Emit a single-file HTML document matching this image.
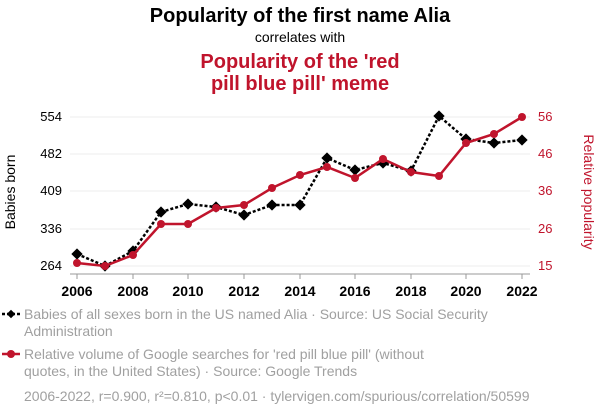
<!DOCTYPE html>
<html><head><meta charset="utf-8"><style>
body{margin:0;background:#fff;width:600px;height:414px;overflow:hidden;font-family:"Liberation Sans",sans-serif}
</style></head><body>
<svg width="600" height="414" xmlns="http://www.w3.org/2000/svg" font-family="Liberation Sans, sans-serif">
<text x="300" y="22" text-anchor="middle" font-size="20" font-weight="bold" fill="#000">Popularity of the first name Alia</text>
<text x="300" y="42" text-anchor="middle" font-size="14" fill="#000">correlates with</text>
<text x="300" y="68" text-anchor="middle" font-size="20" font-weight="bold" fill="#c0142c">Popularity of the 'red</text>
<text x="300" y="90" text-anchor="middle" font-size="20" font-weight="bold" fill="#c0142c">pill blue pill' meme</text>
<g stroke="#eee" stroke-width="1">
<line x1="70" x2="530" y1="117" y2="117"/><line x1="70" x2="530" y1="154" y2="154"/><line x1="70" x2="530" y1="191" y2="191"/><line x1="70" x2="530" y1="229" y2="229"/><line x1="70" x2="530" y1="266" y2="266"/>
</g>
<line x1="70" x2="530" y1="274" y2="274" stroke="#999" stroke-width="1"/>
<g stroke="#999" stroke-width="1">
<line x1="77" x2="77" y1="274" y2="279"/><line x1="133" x2="133" y1="274" y2="279"/><line x1="188" x2="188" y1="274" y2="279"/><line x1="244" x2="244" y1="274" y2="279"/><line x1="300" x2="300" y1="274" y2="279"/><line x1="355" x2="355" y1="274" y2="279"/><line x1="411" x2="411" y1="274" y2="279"/><line x1="466" x2="466" y1="274" y2="279"/><line x1="522" x2="522" y1="274" y2="279"/>
</g>
<g font-size="13" fill="#000" text-anchor="end">
<text x="62" y="121">554</text><text x="62" y="158">482</text><text x="62" y="195">409</text><text x="62" y="233">336</text><text x="62" y="270">264</text>
</g>
<g font-size="13" fill="#c0142c" text-anchor="start">
<text x="538" y="121">56</text><text x="538" y="158">46</text><text x="538" y="195">36</text><text x="538" y="233">26</text><text x="538" y="270">15</text>
</g>
<text transform="translate(15,192) rotate(-90)" text-anchor="middle" font-size="14" fill="#000">Babies born</text>
<text transform="translate(584,192) rotate(90)" text-anchor="middle" font-size="14" fill="#c0142c">Relative popularity</text>
<g font-size="14" font-weight="bold" fill="#000" text-anchor="middle">
<text x="77" y="296">2006</text><text x="133" y="296">2008</text><text x="188" y="296">2010</text><text x="244" y="296">2012</text><text x="300" y="296">2014</text><text x="355" y="296">2016</text><text x="411" y="296">2018</text><text x="466" y="296">2020</text><text x="522" y="296">2022</text>
</g>
<polyline fill="none" stroke="#000" stroke-width="2.5" stroke-dasharray="3,2" points="77,254 105,266 133,251 161,212 188,204 216,207 244,215 272,205 300,205 327,158 355,170 383,163 411,171 439,116 466,139 494,143 522,140"/>
<g fill="#000">
<rect x="73" y="250" width="8" height="8" transform="rotate(45 77 254)"/><rect x="101" y="262" width="8" height="8" transform="rotate(45 105 266)"/><rect x="129" y="247" width="8" height="8" transform="rotate(45 133 251)"/><rect x="157" y="208" width="8" height="8" transform="rotate(45 161 212)"/><rect x="184" y="200" width="8" height="8" transform="rotate(45 188 204)"/><rect x="212" y="203" width="8" height="8" transform="rotate(45 216 207)"/><rect x="240" y="211" width="8" height="8" transform="rotate(45 244 215)"/><rect x="268" y="201" width="8" height="8" transform="rotate(45 272 205)"/><rect x="296" y="201" width="8" height="8" transform="rotate(45 300 205)"/><rect x="323" y="154" width="8" height="8" transform="rotate(45 327 158)"/><rect x="351" y="166" width="8" height="8" transform="rotate(45 355 170)"/><rect x="379" y="159" width="8" height="8" transform="rotate(45 383 163)"/><rect x="407" y="167" width="8" height="8" transform="rotate(45 411 171)"/><rect x="435" y="112" width="8" height="8" transform="rotate(45 439 116)"/><rect x="462" y="135" width="8" height="8" transform="rotate(45 466 139)"/><rect x="490" y="139" width="8" height="8" transform="rotate(45 494 143)"/><rect x="518" y="136" width="8" height="8" transform="rotate(45 522 140)"/>
</g>
<polyline fill="none" stroke="#c0142c" stroke-width="2.5" points="77,263 105,266 133,255 161,224 188,224 216,208 244,205 272,188 300,175 327,167 355,178 383,159 411,172 439,176 466,143 494,134 522,117"/>
<g fill="#c0142c">
<circle cx="77" cy="263" r="4"/><circle cx="105" cy="266" r="4"/><circle cx="133" cy="255" r="4"/><circle cx="161" cy="224" r="4"/><circle cx="188" cy="224" r="4"/><circle cx="216" cy="208" r="4"/><circle cx="244" cy="205" r="4"/><circle cx="272" cy="188" r="4"/><circle cx="300" cy="175" r="4"/><circle cx="327" cy="167" r="4"/><circle cx="355" cy="178" r="4"/><circle cx="383" cy="159" r="4"/><circle cx="411" cy="172" r="4"/><circle cx="439" cy="176" r="4"/><circle cx="466" cy="143" r="4"/><circle cx="494" cy="134" r="4"/><circle cx="522" cy="117" r="4"/>
</g>
<line x1="2" x2="20" y1="314" y2="314" stroke="#000" stroke-width="2.5" stroke-dasharray="3,2"/>
<rect x="8" y="311" width="6" height="6" fill="#000" transform="rotate(45 11 314)"/>
<g font-size="14" fill="#a0a0a0">
<text x="24" y="319">Babies of all sexes born in the US named Alia · Source: US Social Security</text>
<text x="24" y="336">Administration</text>
<text x="24" y="359">Relative volume of Google searches for 'red pill blue pill' (without</text>
<text x="24" y="376">quotes, in the United States) · Source: Google Trends</text>
<text x="24" y="401">2006-2022, r=0.900, r²=0.810, p&lt;0.01 · tylervigen.com/spurious/correlation/50599</text>
</g>
<line x1="2" x2="20" y1="354" y2="354" stroke="#c0142c" stroke-width="2.5"/>
<circle cx="11" cy="354" r="4" fill="#c0142c"/>
</svg>
</body></html>
